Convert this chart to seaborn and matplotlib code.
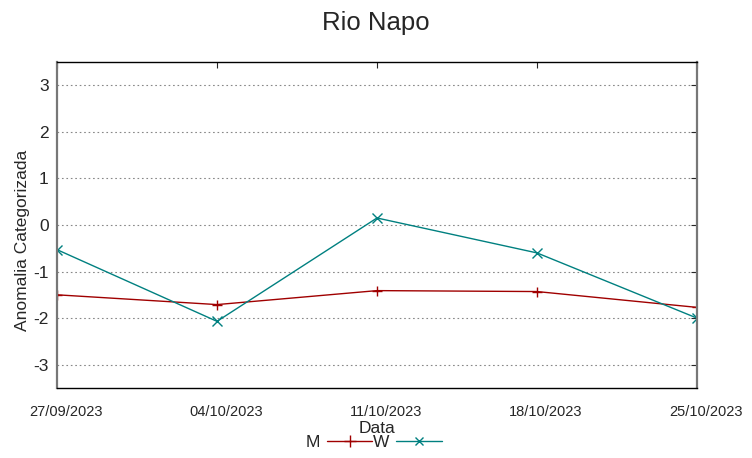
import pandas as pd
import matplotlib.pyplot as plt
import matplotlib.transforms as mtransforms
import seaborn as sns

dates = ["27/09/2023", "04/10/2023", "11/10/2023", "18/10/2023", "25/10/2023"]
m_values = [-1.50, -1.71, -1.41, -1.43, -1.77]
w_values = [-0.53, -2.07, 0.15, -0.60, -2.00]
y_ticks = [-3, -2, -1, 0, 1, 2, 3]

colors = {"M": "#a00000", "W": "#008080"}


def main():
    sns.set_style("white")
    plt.rcParams["font.family"] = ["Liberation Sans", "DejaVu Sans"]

    df = pd.DataFrame({
        "Data": list(range(len(dates))) * 2,
        "valor": m_values + w_values,
        "serie": ["M"] * len(dates) + ["W"] * len(dates),
    })

    fig = plt.figure(figsize=(7.52, 4.58), dpi=100)
    ax = fig.add_axes([0.0758, 0.153, 0.851, 0.7116])

    sns.lineplot(data=df, x="Data", y="valor", hue="serie", style="serie",
                 markers={"M": "+", "W": "x"}, dashes=False,
                 palette=colors, linewidth=1, markersize=6.5,
                 legend=False, ax=ax)
    # seaborn paints marker edges white, put the series colour back
    for line in ax.get_lines():
        line.set_markeredgecolor(line.get_color())
        line.set_markeredgewidth(1)

    ax.set_xlim(0, len(dates) - 1)
    ax.set_ylim(-3.5, 3.5)
    ax.set_xticks(range(len(dates)))
    ax.set_xticklabels(dates, fontsize=10.5)
    ax.set_yticks(y_ticks)
    ax.set_yticklabels([str(t) for t in y_ticks], fontsize=12.5)
    ax.tick_params(axis="x", direction="in", length=4, pad=12, top=True)
    ax.tick_params(axis="y", direction="in", length=4, right=True, pad=6)
    shift = mtransforms.ScaledTranslation(9 / 100, 0, fig.dpi_scale_trans)
    for lbl in ax.get_xticklabels():
        lbl.set_transform(lbl.get_transform() + shift)
    ax.yaxis.grid(True, linestyle=(0, (1.5, 2.5)), color="#888888", linewidth=0.8)
    ax.xaxis.grid(False)

    for side in ["top", "bottom"]:
        ax.spines[side].set_color("black")
        ax.spines[side].set_linewidth(1)
    for side in ["left", "right"]:
        ax.spines[side].set_color("#777777")
        ax.spines[side].set_linewidth(1.6)

    ax.set_xlabel("Data", fontsize=12.5)
    ax.xaxis.set_label_coords(0.5, -0.10)
    ax.set_ylabel("Anomalia Categorizada", fontsize=12.5)
    ax.yaxis.set_label_coords(-0.042, 0.454)
    fig.suptitle("Rio Napo", fontsize=18.5, y=0.975)

    handles = [
        plt.Line2D([], [], color=colors["M"], marker="+", linewidth=1, markersize=8),
        plt.Line2D([], [], color=colors["W"], marker="x", linewidth=1, markersize=6),
    ]
    fig.legend(handles, ["M", "W"], loc="lower center", ncol=2, frameon=False,
               markerfirst=False, fontsize=12.5, bbox_to_anchor=(0.497, -0.017),
               handlelength=2.6, handletextpad=0.4, columnspacing=0.05)

    fig.savefig("out.png", dpi=100)


if __name__ == "__main__":
    main()
